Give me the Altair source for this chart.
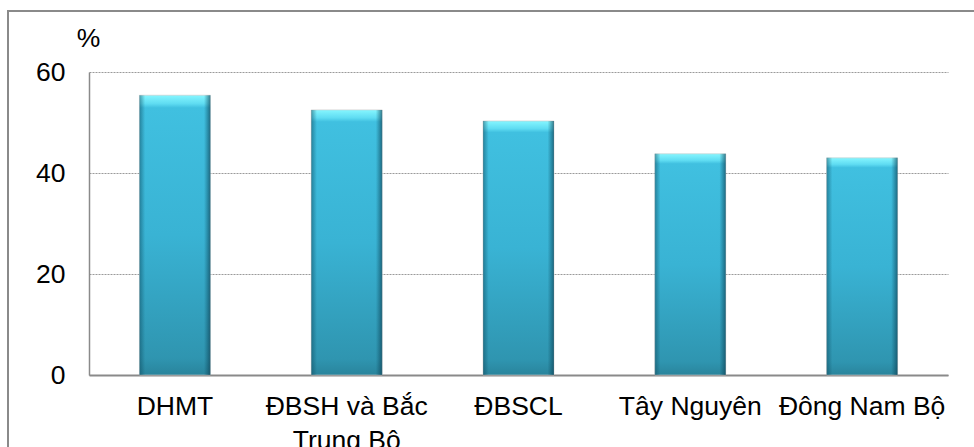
import altair as alt
import pandas as pd

# Share of each region (%)
regions = ["DHMT", "ĐBSH và Bắc\nTrung Bộ", "ĐBSCL", "Tây Nguyên", "Đông Nam Bộ"]
values = [55.4, 52.5, 50.3, 43.8, 43.0]
y_ticks = [0, 20, 40, 60]

df = pd.DataFrame({"region": regions, "value": values})

FONT = "Liberation Sans"
FS = 26.5

x_enc = alt.X(
    "region:N",
    sort=regions,
    scale=alt.Scale(paddingInner=0.587, paddingOuter=0.2935),
    axis=alt.Axis(
        title=None,
        labelAngle=0,
        labelFontSize=FS,
        labelFont=FONT,
        labelColor="#000000",
        labelPadding=18,
        labelLineHeight=34,
        labelExpr="split(datum.label, '\\n')",
        ticks=False,
        domainColor="#8a8a8a",
        domainWidth=2,
        labelLimit=400,
    ),
)

y_enc = alt.Y(
    "value:Q",
    scale=alt.Scale(domain=[0, 60], nice=False),
    axis=alt.Axis(
        values=y_ticks,
        title="%",
        titleAngle=0,
        titleFont=FONT,
        titleFontSize=FS,
        titleFontWeight="normal",
        titleColor="#000000",
        titleAlign="center",
        titleBaseline="middle",
        titleX=-1,
        titleY=-34,
        labelFontSize=FS,
        labelFont=FONT,
        labelColor="#000000",
        labelPadding=24,
        ticks=False,
        domainColor="#8a8a8a",
        domainWidth=1.5,
        grid=True,
        gridColor="#9a9a9a",
        gridDash=[2, 1],
        gridWidth=1,
    ),
)

# frame lines along the top and left of the figure, ending at the figure edge
frame_top = alt.Chart(df).mark_rule(stroke="#8a8a8a", strokeWidth=2).encode(
    x=alt.value(-81), x2=alt.value(885), y=alt.value(-61)
)
frame_left = alt.Chart(df).mark_rule(stroke="#8a8a8a", strokeWidth=2).encode(
    x=alt.value(-81), y=alt.value(-62), y2=alt.value(375)
)

# bars with a bevelled, glossy look
bars = alt.Chart(df).mark_bar(
    color=alt.Gradient(
        gradient="linear",
        x1=0, x2=0, y1=0, y2=1,
        stops=[
            alt.GradientStop(offset=0.0, color="#86f6ff"),
            alt.GradientStop(offset=0.03, color="#5fdcf2"),
            alt.GradientStop(offset=0.045, color="#40c0e0"),
            alt.GradientStop(offset=0.5, color="#39b3d4"),
            alt.GradientStop(offset=0.94, color="#2f95b0"),
            alt.GradientStop(offset=1.0, color="#29849c"),
        ],
    ),
    stroke="#c8c8c8",
    strokeWidth=0.6,
).encode(x=x_enc, y=y_enc)

edges = alt.Chart(df).mark_bar(
    color=alt.Gradient(
        gradient="linear",
        x1=0, x2=1, y1=0, y2=0,
        stops=[
            alt.GradientStop(offset=0.0, color="rgba(10,70,90,0.5)"),
            alt.GradientStop(offset=0.08, color="rgba(10,70,90,0.0)"),
            alt.GradientStop(offset=0.91, color="rgba(10,70,90,0.0)"),
            alt.GradientStop(offset=1.0, color="rgba(10,60,80,0.65)"),
        ],
    ),
).encode(x=alt.X("region:N", sort=regions), y="value:Q")

chart = (
    alt.layer(frame_top, frame_left, bars, edges)
    .properties(
        width=859,
        height=303,
        autosize=alt.AutoSizeParams(type="none"),
        padding={"left": 89, "top": 72, "right": 26, "bottom": 72},
        background="#ffffff",
    )
    .configure_view(stroke=None)
)

chart.save("out.html", embed_options={"renderer": "svg", "actions": False})
